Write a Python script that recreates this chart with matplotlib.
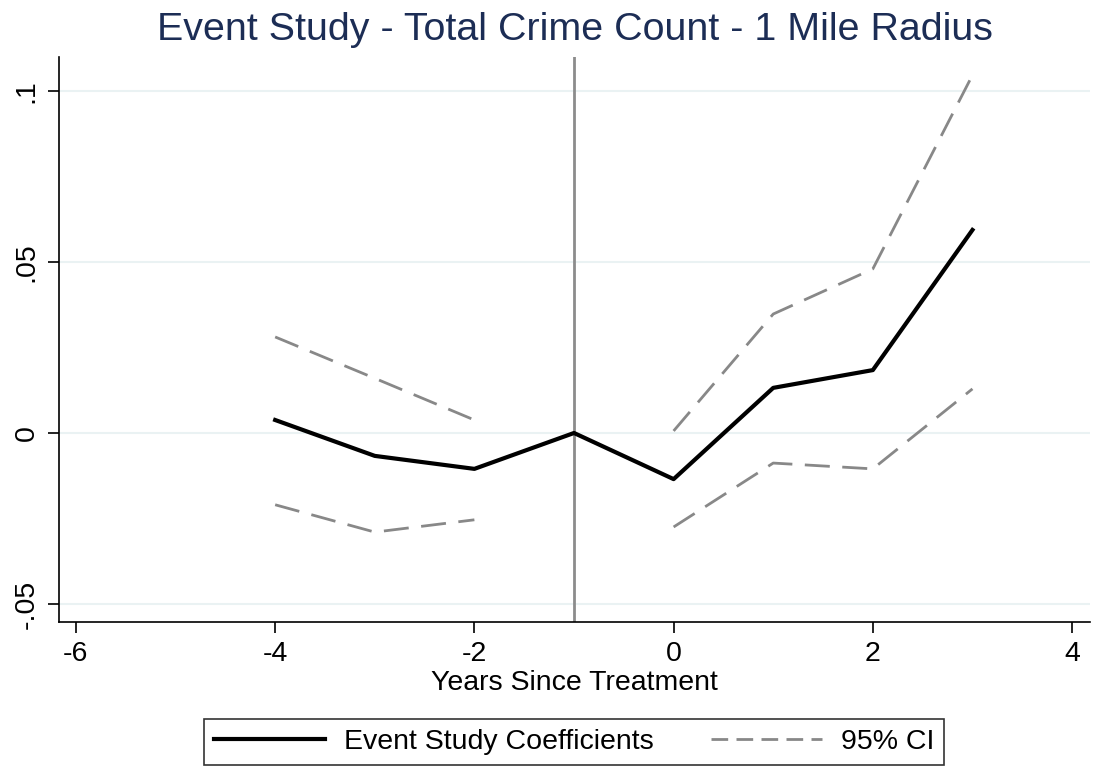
import matplotlib.pyplot as plt
from matplotlib.lines import Line2D
import numpy as np

plt.rcParams['font.family'] = ['Liberation Sans', 'DejaVu Sans']
plt.rcParams['axes.unicode_minus'] = False

# event-time coefficients and 95% bounds (reference year -1 has no CI)
years = [-4, -3, -2, -1, 0, 1, 2, 3]
coef = [0.0038, -0.0067, -0.0105, 0.0, -0.0135, 0.0132, 0.0184, 0.0594]
ci_upper = [0.0281, 0.0160, 0.0038, np.nan, 0.0006, 0.0348, 0.0480, 0.1047]
ci_lower = [-0.0210, -0.0290, -0.0254, np.nan, -0.0275, -0.0088, -0.0105, 0.0129]

xticks = [-6, -4, -2, 0, 2, 4]
yticks = [-0.05, 0, 0.05, 0.1]
ytick_labels = ['-.05', '0', '.05', '.1']

FS = 20.5

fig = plt.figure(figsize=(10.94, 7.82), dpi=100)
ax = fig.add_axes([59 / 1094, 1 - 622 / 782, 1031 / 1094, 565 / 782])

for y in yticks:
    ax.axhline(y, color='#eaf2f3', lw=1.5, zorder=0)

ax.axvline(-1, color='#8c8c8c', lw=2, zorder=1)

ax.plot(years, ci_upper, color='#888888', lw=2, ls=(0, (9, 4.5)), zorder=2)
ax.plot(years, ci_lower, color='#888888', lw=2, ls=(0, (9, 4.5)), zorder=2)
ax.plot(years, coef, color='black', lw=3, zorder=3)

ax.set_xlim(-6.17, 4.18)
ax.set_ylim(-0.0553, 0.110)
ax.set_xticks(xticks)
ax.set_yticks(yticks)
ax.set_yticklabels(ytick_labels, rotation=90, va='center')
ax.tick_params(axis='both', labelsize=FS, length=8, width=1.2, color='black')
ax.tick_params(axis='x', pad=6)
ax.tick_params(axis='y', pad=6)

for side in ['top', 'right']:
    ax.spines[side].set_visible(False)
for side in ['left', 'bottom']:
    ax.spines[side].set_linewidth(1.2)

ax.set_xlabel('Years Since Treatment', fontsize=FS, labelpad=2)
fig.text(575 / 1094, 1 - 30 / 782, 'Event Study - Total Crime Count - 1 Mile Radius',
         ha='center', va='center', fontsize=28.4, color='#1c2d55')

handles = [Line2D([], [], color='black', lw=3),
           Line2D([], [], color='#888888', lw=2, ls=(0, (6, 3)))]
leg = fig.legend(handles, ['Event Study Coefficients', '95% CI'],
                 loc='center', bbox_to_anchor=(574 / 1094, 1 - 742 / 782),
                 ncol=2, fontsize=FS, frameon=True, fancybox=False,
                 handlelength=3.9, columnspacing=2.0, handletextpad=0.67,
                 borderpad=0.35, borderaxespad=0)
leg.get_frame().set_edgecolor('black')
leg.get_frame().set_linewidth(1.2)

fig.savefig('out.png', dpi=100)
